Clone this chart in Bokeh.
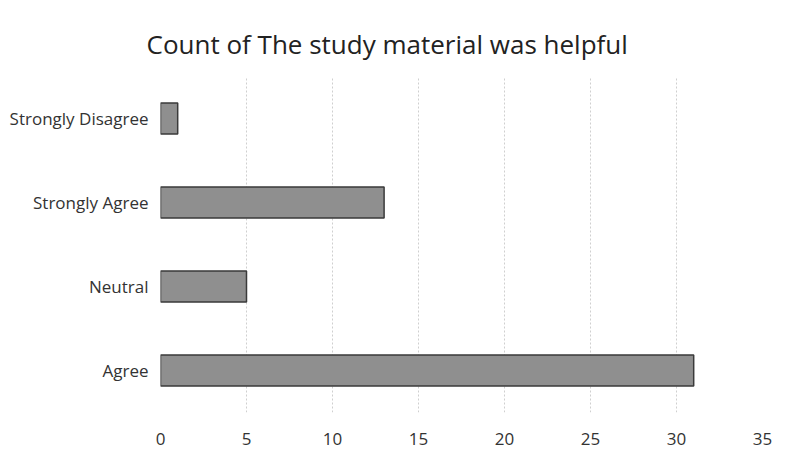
from bokeh.plotting import figure
from bokeh.models import FactorRange, Range1d, FixedTicker, Title
from bokeh.embed import file_html
from bokeh.resources import INLINE

categories = ["Agree", "Neutral", "Strongly Agree", "Strongly Disagree"]
counts = [31, 5, 13, 1]
x_ticks = [0, 5, 10, 15, 20, 25, 30, 35]

FONT = "Open Sans"

p = figure(width=790, height=458, output_backend="svg", toolbar_location=None,
           y_range=FactorRange(factors=categories), x_range=Range1d(0, 35),
           min_border_left=160, min_border_right=28, min_border_top=76,
           min_border_bottom=46, outline_line_color=None)

p.add_layout(Title(text="Count of The study material was helpful", align="left",
                   offset=-14, text_font=FONT, text_font_size="26px",
                   text_font_style="normal", text_color="#222222",
                   standoff=30), "above")

p.hbar(y=categories, right=counts, left=0, height=0.37,
       fill_color="#8f8f8f", line_color="#3a3a3a", line_width=1.5)

p.xaxis.ticker = FixedTicker(ticks=x_ticks)
for ax in (p.xaxis, p.yaxis):
    ax.axis_line_color = None
    ax.major_tick_line_color = None
    ax.minor_tick_line_color = None
    ax.major_label_text_font = FONT
    ax.major_label_text_font_size = "17px"
    ax.major_label_text_color = "#333333"
p.xaxis.major_label_standoff = 14
p.yaxis.major_label_standoff = 6

p.xgrid.grid_line_color = "#cfcfcf"
p.xgrid.grid_line_dash = "2 2"
p.ygrid.grid_line_color = None

open("out.html", "w").write(file_html(p, INLINE))
